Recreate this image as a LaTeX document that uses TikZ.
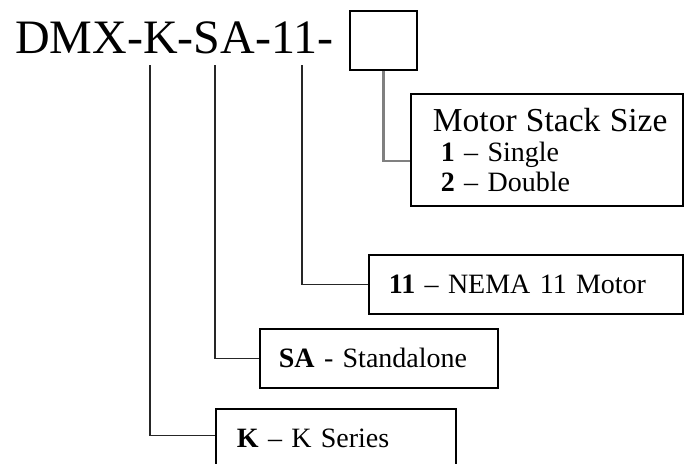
\documentclass[tikz,border=0pt]{standalone}
\usepackage{fontspec}
\setmainfont{Liberation Serif}

\begin{document}
\begin{tikzpicture}[
  x=1pt, y=-1pt,
  codebox/.style={draw=black,line width=1.8pt,inner xsep=20pt,inner ysep=0pt,
    align=left,anchor=north west,minimum height=59pt,
    font=\fontsize{28}{30}\selectfont},
  lead/.style={draw=black!85,line width=1.8pt},
  graylead/.style={draw=black!50,line width=2.6pt},
]
\useasboundingbox (0,0) rectangle (684,463);
\clip (0,0) rectangle (684,463);

% ===================================================================
% Part number and empty slot
% ===================================================================
\node[anchor=base west,inner sep=0pt,font=\fontsize{48}{52}\selectfont] (title) at (15,53) {DMX-K-SA-11-};
\node[draw=black,line width=1.8pt,minimum width=67pt,minimum height=59pt,inner sep=0pt] (slot) at (383.5,40.5) {};

% tops of the leads under the code letters
\coordinate (kmark)    at (150,65);
\coordinate (samark)   at (215,65);
\coordinate (nemamark) at (302,65);

% ===================================================================
% Option boxes
% ===================================================================
\node[codebox,minimum width=272pt,minimum height=112pt,text width=246pt,inner xsep=13pt] (stack) at (410,93)
  {\hspace*{9pt}{\fontsize{33.5}{34}\selectfont Motor Stack Size}\\
   \hspace*{17pt}\textbf{1} – Single\\
   \hspace*{17pt}\textbf{2} – Double};
\node[codebox,minimum width=314pt,text width=274pt] (nema) at (368,254) {\textbf{11} – NEMA 11 Motor};
\node[codebox,minimum width=238pt,text width=200pt,inner xsep=19pt] (standalone) at (259,328) {\textbf{SA} - Standalone};
\node[codebox,minimum width=240pt,text width=198pt,inner xsep=21pt] (series) at (215,408) {\textbf{K} – K Series};

% ===================================================================
% Leads
% ===================================================================
\draw[graylead] (slot.south) |- ([yshift=-11pt]stack.west);
\draw[lead] (nemamark) |- (nema.west);
\draw[lead] (samark) |- (standalone.west);
\draw[lead] (kmark) |- ([yshift=3pt]series.west);

\end{tikzpicture}
\end{document}
